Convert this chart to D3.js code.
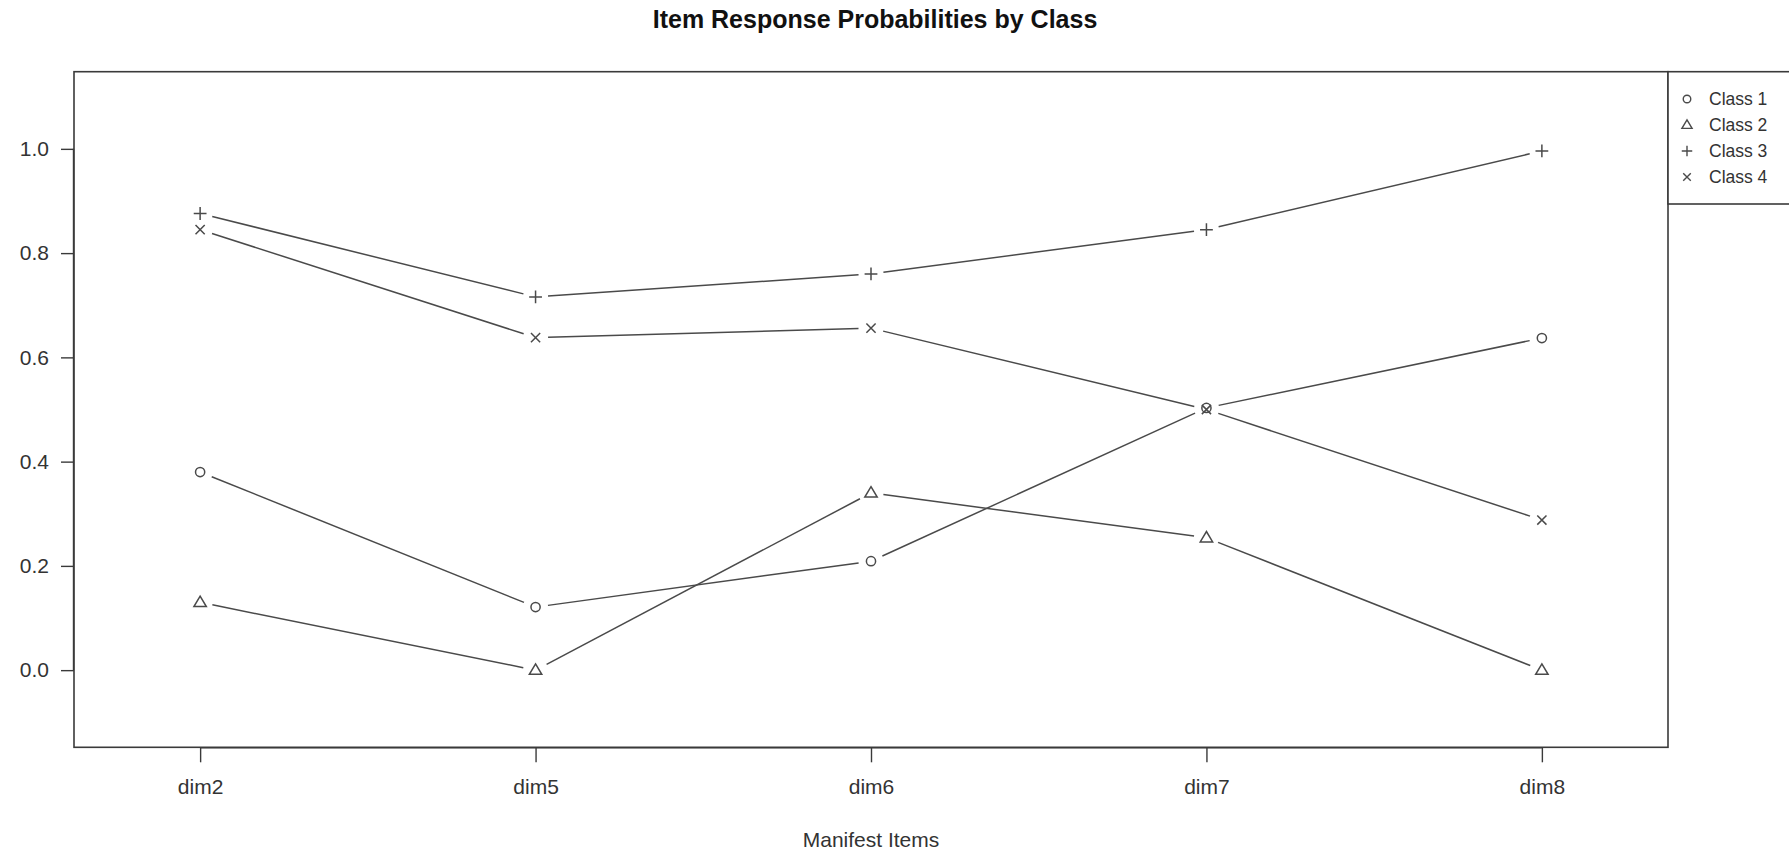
<!DOCTYPE html>
<html>
<head>
<meta charset="utf-8">
<script src="https://cdn.jsdelivr.net/npm/d3@7"></script>
<style>
  html, body { margin: 0; padding: 0; background: #fff; }
  svg { display: block; font-family: "Liberation Sans", Arial, sans-serif; }
</style>
</head>
<body>
<svg id="chart" width="1789" height="855"></svg>
<script>
// Manifest items on the x axis
const items = ["dim2", "dim5", "dim6", "dim7", "dim8"];
// Probability of a positive response for each latent class
const class1 = [0.380, 0.121, 0.209, 0.503, 0.637];
const class2 = [0.130, 0.000, 0.340, 0.254, 0.000];
const class3 = [0.876, 0.716, 0.760, 0.845, 0.996];
const class4 = [0.845, 0.638, 0.656, 0.500, 0.288];
const classNames = ["Class 1", "Class 2", "Class 3", "Class 4"];
const classShapes = ["circle", "triangle", "plus", "cross"];
const yTicks = [0.0, 0.2, 0.4, 0.6, 0.8, 1.0];

const series = [class1, class2, class3, class4].map((vals, i) => ({
  name: classNames[i], shape: classShapes[i], values: vals
}));

const svg = d3.select("#chart");
const box = { left: 74, right: 1668, top: 71.7, bottom: 747.3 };
const ink = "#3a3a3a";
const lineInk = "#4a4a4a";

const x = d3.scaleLinear().domain([0.624, 5.376]).range([box.left, box.right]);
const y = d3.scaleLinear().domain([-0.148, 1.148]).range([box.bottom, box.top]);

// Marker shapes drawn with thin strokes, R-style
function markerPath(shape, s) {
  switch (shape) {
    case "circle": {
      const r = 4.6 * s;
      return `M${-r},0A${r},${r} 0 1,0 ${r},0A${r},${r} 0 1,0 ${-r},0Z`;
    }
    case "triangle": {
      const h = 10.4 * s, w = 6.2 * s;
      return `M0,${-h * 0.6}L${w},${h * 0.4}L${-w},${h * 0.4}Z`;
    }
    case "plus": {
      const a = 6.4 * s;
      return `M${-a},0L${a},0M0,${-a}L0,${a}`;
    }
    case "cross": {
      const a = 4.6 * s;
      return `M${-a},${-a}L${a},${a}M${-a},${a}L${a},${-a}`;
    }
  }
}

// Plot frame
svg.append("rect")
  .attr("x", box.left).attr("y", box.top)
  .attr("width", box.right - box.left).attr("height", box.bottom - box.top)
  .attr("fill", "none").attr("stroke", ink).attr("stroke-width", 1.6);

// Y axis
const yAxis = d3.axisLeft(y).tickValues(yTicks).tickFormat(d3.format(".1f"))
  .tickSize(13).tickPadding(12).tickSizeOuter(0);
const gy = svg.append("g").attr("transform", `translate(${box.left},0)`).call(yAxis);
gy.select(".domain").attr("d", `M-0.5,${y(0)}V${y(1)}`).attr("stroke", ink).attr("stroke-width", 1.4);
gy.selectAll(".tick line").attr("stroke", ink).attr("stroke-width", 1.4);
gy.selectAll(".tick text").attr("font-size", 21).attr("fill", "#333")
  .attr("font-family", "Liberation Sans, Arial, sans-serif");

// X axis
const xAxis = d3.axisBottom(x).tickValues(d3.range(1, items.length + 1))
  .tickFormat(d => items[d - 1]).tickSize(15).tickPadding(17).tickSizeOuter(0);
const gx = svg.append("g").attr("transform", `translate(0,${box.bottom})`).call(xAxis);
gx.select(".domain").attr("d", `M${x(1)},0.5H${x(items.length)}`).attr("stroke", ink).attr("stroke-width", 1.4);
gx.selectAll(".tick line").attr("stroke", ink).attr("stroke-width", 1.4);
gx.selectAll(".tick text").attr("font-size", 21).attr("fill", "#333")
  .attr("font-family", "Liberation Sans, Arial, sans-serif");

// Lines between points, broken around each marker
const gap = 12.5;
const gLines = svg.append("g");
series.forEach(s => {
  const pts = s.values.map((v, i) => [x(i + 1), y(v)]);
  for (let i = 0; i < pts.length - 1; i++) {
    const [x0, y0] = pts[i], [x1, y1] = pts[i + 1];
    const len = Math.hypot(x1 - x0, y1 - y0);
    if (len <= 2 * gap) continue;
    const ux = (x1 - x0) / len, uy = (y1 - y0) / len;
    gLines.append("line")
      .attr("x1", x0 + ux * gap).attr("y1", y0 + uy * gap)
      .attr("x2", x1 - ux * gap).attr("y2", y1 - uy * gap)
      .attr("stroke", lineInk).attr("stroke-width", 1.5);
  }
});

// Markers
const gPts = svg.append("g");
series.forEach(s => {
  gPts.selectAll(null).data(s.values).join("path")
    .attr("transform", (v, i) => `translate(${x(i + 1)},${y(v)})`)
    .attr("d", markerPath(s.shape, 1))
    .attr("fill", "none").attr("stroke", lineInk).attr("stroke-width", 1.5);
});

// Title and axis label
svg.append("text")
  .attr("x", (box.left + box.right) / 2 + 4).attr("y", 27.5)
  .attr("text-anchor", "middle").attr("font-size", 25).attr("font-weight", "bold")
  .attr("fill", "#111").text("Item Response Probabilities by Class");

svg.append("text")
  .attr("x", (box.left + box.right) / 2).attr("y", 847)
  .attr("text-anchor", "middle").attr("font-size", 21).attr("fill", "#333")
  .text("Manifest Items");

// Legend, anchored at the top right corner of the plot
const legend = svg.append("g");
legend.append("rect")
  .attr("x", box.right).attr("y", box.top)
  .attr("width", 140).attr("height", 204 - box.top)
  .attr("fill", "#fff").attr("stroke", ink).attr("stroke-width", 1.6);
series.forEach((s, i) => {
  const cy = 99 + i * 26;
  legend.append("path")
    .attr("transform", `translate(1687,${cy})`)
    .attr("d", markerPath(s.shape, 0.82))
    .attr("fill", "none").attr("stroke", lineInk).attr("stroke-width", 1.4);
  legend.append("text")
    .attr("x", 1709).attr("y", cy).attr("dy", "0.35em")
    .attr("font-size", 17.5).attr("fill", "#333").text(s.name);
});
</script>
</body>
</html>
